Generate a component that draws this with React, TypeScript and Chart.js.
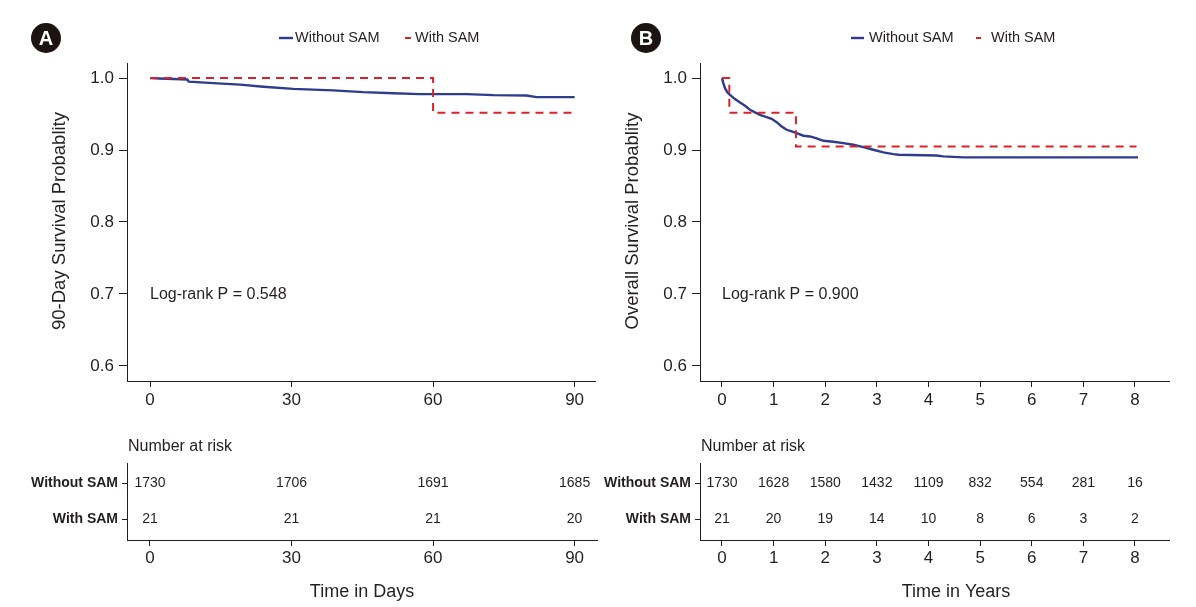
import React, { useEffect, useRef } from 'react';
import { Chart, registerables } from 'chart.js';

Chart.register(...registerables);

const FONT = "'Liberation Sans', Arial, Helvetica, sans-serif";
const INK = '#231f20';
const BLUE = '#2f3c8e';
const RED = '#d9232b';

// ---------- shared ----------
const groups = ['Without SAM', 'With SAM'];
const survTicks = [0.6, 0.7, 0.8, 0.9, 1.0];

// ---------- Panel A : 90-day ----------
const timeTicksA = [0, 30, 60, 90];
const withoutTimeA = [0, 2, 7.9, 8.2, 13.4, 19.1, 24, 30.4, 38.8, 45.2, 51.6, 57.2, 67.1, 72.8, 79.8, 81.9, 90];
const withoutSurvA = [1.0, 0.9995, 0.998, 0.995, 0.993, 0.991, 0.988, 0.985, 0.983, 0.9805, 0.979, 0.9778, 0.9778, 0.9764, 0.9758, 0.9736, 0.9736];
const withTimeA = [0, 60, 90];
const withSurvA = [1.0, 0.952, 0.952];
const riskWithoutA = [1730, 1706, 1691, 1685];
const riskWithA = [21, 21, 21, 20];

// ---------- Panel B : overall ----------
const timeTicksB = [0, 1, 2, 3, 4, 5, 6, 7, 8];
const withoutTimeB = [0, 0.026, 0.058, 0.103, 0.155, 0.252, 0.349, 0.446, 0.542, 0.639, 0.736, 0.865, 0.962, 1.059, 1.156, 1.253, 1.35, 1.446, 1.576, 1.705, 1.834, 1.963, 2.157, 2.35, 2.544, 2.738, 2.931, 3.125, 3.319, 3.416, 4.158, 4.287, 4.675, 8.06];
const withoutSurvB = [1.0, 0.993, 0.986, 0.9805, 0.9768, 0.9708, 0.9662, 0.9615, 0.956, 0.9523, 0.949, 0.9458, 0.9435, 0.9388, 0.9328, 0.9282, 0.9259, 0.9236, 0.9199, 0.9189, 0.9162, 0.9129, 0.9115, 0.9097, 0.9074, 0.9041, 0.9004, 0.8967, 0.8944, 0.8935, 0.8925, 0.8912, 0.8898, 0.8898];
const withTimeB = [0, 0.142, 1.433, 8.03];
const withSurvB = [1.0, 0.952, 0.905, 0.905];
const riskWithoutB = [1730, 1628, 1580, 1432, 1109, 832, 554, 281, 16];
const riskWithB = [21, 20, 19, 14, 10, 8, 6, 3, 2];

type Panel = {
  left: number;
  width: number;
  badge: string;
  yTitle: string;
  logRank: string;
  xTitle: string;
  xTitleX: number;
  areaLeft: number;
  areaRight: number;
  riskRight: number;
  xMin: number;
  xMax: number;
  xMaxRisk: number;
  ticks: number[];
  withoutT: number[];
  withoutS: number[];
  withT: number[];
  withS: number[];
  riskWithout: number[];
  riskWith: number[];
  legend: { blue: [number, number]; blueText: number; red: [number, number]; redText: number };
};

const panels: Panel[] = [
  {
    left: 0, width: 600, badge: 'A',
    yTitle: '90-Day Survival Probablity', logRank: 'Log-rank P = 0.548',
    xTitle: 'Time in Days', xTitleX: 362,
    areaLeft: 127, areaRight: 595, riskRight: 597,
    xMin: -4.875, xMax: 94.32, xMaxRisk: 94.75,
    ticks: timeTicksA,
    withoutT: withoutTimeA, withoutS: withoutSurvA, withT: withTimeA, withS: withSurvA,
    riskWithout: riskWithoutA, riskWith: riskWithA,
    legend: { blue: [279, 293], blueText: 295, red: [405, 411], redText: 415 },
  },
  {
    left: 600, width: 596, badge: 'B',
    yTitle: 'Overall Survival Probablity', logRank: 'Log-rank P = 0.900',
    xTitle: 'Time in Years', xTitleX: 356,
    areaLeft: 100, areaRight: 569, riskRight: 569,
    xMin: -0.426, xMax: 8.659, xMaxRisk: 8.659,
    ticks: timeTicksB,
    withoutT: withoutTimeB, withoutS: withoutSurvB, withT: withTimeB, withS: withSurvB,
    riskWithout: riskWithoutB, riskWith: riskWithB,
    legend: { blue: [251, 264], blueText: 269, red: [376, 381], redText: 391 },
  },
];

const TOP_H = 420;
const RISK_H = 187;

function axisX(min: number, max: number, ticks: number[], height: number, pad: number) {
  return {
    type: 'linear',
    min,
    max,
    afterBuildTicks: (s: any) => { s.ticks = ticks.map((v) => ({ value: v })); },
    afterFit: (s: any) => { s.height = height; },
    ticks: { color: INK, font: { size: 17, family: FONT }, padding: pad, maxRotation: 0, autoSkip: false },
    grid: { display: true, drawOnChartArea: false, drawTicks: true, tickLength: 6, color: INK, lineWidth: 1 },
    border: { display: true, color: INK, width: 1 },
  };
}

function buildSurv(canvas: HTMLCanvasElement, p: Panel) {
  const overlay = {
    id: 'overlay' + p.badge,
    afterDraw(chart: any) {
      const ctx = chart.ctx;
      const a = chart.chartArea;
      const xs = chart.scales.x;
      const ys = chart.scales.y;
      ctx.save();
      // badge
      ctx.fillStyle = '#1b1412';
      ctx.beginPath();
      ctx.arc(46, 38, 15, 0, Math.PI * 2);
      ctx.fill();
      ctx.fillStyle = '#ffffff';
      ctx.font = `bold 20px ${FONT}`;
      ctx.textAlign = 'center';
      ctx.textBaseline = 'middle';
      ctx.fillText(p.badge, 46, 39);
      // legend
      const ly = 38;
      ctx.lineWidth = 2.4;
      ctx.strokeStyle = BLUE;
      ctx.beginPath();
      ctx.moveTo(p.legend.blue[0], ly);
      ctx.lineTo(p.legend.blue[1], ly);
      ctx.stroke();
      ctx.lineWidth = 2;
      ctx.strokeStyle = RED;
      ctx.beginPath();
      ctx.moveTo(p.legend.red[0], ly);
      ctx.lineTo(p.legend.red[1], ly);
      ctx.stroke();
      ctx.fillStyle = INK;
      ctx.font = `14.5px ${FONT}`;
      ctx.textAlign = 'left';
      ctx.fillText(groups[0], p.legend.blueText, ly);
      ctx.fillText(groups[1], p.legend.redText, ly);
      // log-rank
      ctx.font = `16px ${FONT}`;
      ctx.fillText(p.logRank, xs.getPixelForValue(0), ys.getPixelForValue(0.7) + 1);
      // y title
      ctx.translate(a.left - 67, (a.top + a.bottom) / 2 - 1);
      ctx.rotate(-Math.PI / 2);
      ctx.textAlign = 'center';
      ctx.font = `18.5px ${FONT}`;
      ctx.fillText(p.yTitle, 0, 0);
      ctx.restore();
    },
  };

  return new Chart(canvas, {
    type: 'line',
    data: {
      datasets: [
        {
          label: groups[0],
          data: p.withoutT.map((t, i) => ({ x: t, y: p.withoutS[i] })),
          borderColor: BLUE,
          borderWidth: 2.4,
          stepped: false,
          tension: 0,
          pointRadius: 0,
          fill: false,
          order: 1,
        },
        {
          label: groups[1],
          data: p.withT.map((t, i) => ({ x: t, y: p.withS[i] })),
          borderColor: RED,
          borderWidth: 2,
          borderDash: [8, 6],
          stepped: 'before',
          pointRadius: 0,
          fill: false,
          order: 0,
        },
      ],
    } as any,
    options: {
      animation: false,
      responsive: false,
      devicePixelRatio: 1,
      events: [],
      layout: { padding: { left: 0, top: 63, right: p.width - p.areaRight, bottom: 0 } },
      plugins: { legend: { display: false }, tooltip: { enabled: false }, title: { display: false } },
      scales: {
        x: axisX(p.xMin, p.xMax, p.ticks, TOP_H - 381, 3),
        y: {
          type: 'linear',
          min: 0.579,
          max: 1.021,
          afterBuildTicks: (s: any) => { s.ticks = survTicks.map((v) => ({ value: v })); },
          afterFit: (s: any) => { s.width = p.areaLeft; },
          ticks: {
            color: INK,
            font: { size: 17, family: FONT },
            padding: 5,
            callback: (v: any) => Number(v).toFixed(1),
          },
          grid: { display: true, drawOnChartArea: false, drawTicks: true, tickLength: 8, color: INK, lineWidth: 1 },
          border: { display: true, color: INK, width: 1 },
        },
      },
    } as any,
    plugins: [overlay],
  });
}

function buildRisk(canvas: HTMLCanvasElement, p: Panel) {
  const counts = [p.riskWithout, p.riskWith];
  const overlay = {
    id: 'risk' + p.badge,
    afterDraw(chart: any) {
      const ctx = chart.ctx;
      const a = chart.chartArea;
      ctx.save();
      ctx.fillStyle = INK;
      ctx.textBaseline = 'middle';
      // numbers at risk
      ctx.font = `14px ${FONT}`;
      ctx.textAlign = 'center';
      counts.forEach((row, r) => {
        const meta = chart.getDatasetMeta(r);
        meta.data.forEach((pt: any, i: number) => {
          ctx.fillText(String(row[i]), pt.x, pt.y);
        });
      });
      // header
      ctx.textAlign = 'left';
      ctx.font = `16px ${FONT}`;
      ctx.fillText('Number at risk', a.left + 1, a.top - 16);
      // x title
      ctx.textAlign = 'center';
      ctx.font = `18px ${FONT}`;
      ctx.fillText(p.xTitle, p.xTitleX, 172);
      ctx.restore();
    },
  };

  return new Chart(canvas, {
    type: 'scatter',
    data: {
      datasets: groups.map((g, r) => ({
        label: g,
        data: p.ticks.map((t) => ({ x: t, y: r })),
        pointRadius: 0,
        showLine: false,
      })),
    } as any,
    options: {
      animation: false,
      responsive: false,
      devicePixelRatio: 1,
      events: [],
      layout: { padding: { left: 0, top: 43, right: p.width - p.riskRight, bottom: 0 } },
      plugins: { legend: { display: false }, tooltip: { enabled: false }, title: { display: false } },
      scales: {
        x: axisX(p.xMin, p.xMaxRisk, p.ticks, RISK_H - 120, 2),
        y: {
          type: 'linear',
          reverse: true,
          min: -0.556,
          max: 1.583,
          afterBuildTicks: (s: any) => { s.ticks = [{ value: 0 }, { value: 1 }]; },
          afterFit: (s: any) => { s.width = p.areaLeft; },
          ticks: {
            color: INK,
            font: { size: 14, family: FONT, weight: 'bold' },
            padding: 4,
            callback: (v: any) => groups[Number(v)] ?? '',
          },
          grid: { display: true, drawOnChartArea: false, drawTicks: true, tickLength: 5, color: INK, lineWidth: 1 },
          border: { display: true, color: INK, width: 1 },
        },
      },
    } as any,
    plugins: [overlay],
  });
}

export default function App() {
  const refs = useRef<(HTMLCanvasElement | null)[]>([]);

  useEffect(() => {
    const charts: Chart[] = [];
    panels.forEach((p, i) => {
      const top = refs.current[i * 2];
      const risk = refs.current[i * 2 + 1];
      if (top) charts.push(buildSurv(top, p));
      if (risk) charts.push(buildRisk(risk, p));
    });
    return () => charts.forEach((c) => c.destroy());
  }, []);

  return (
    <div style={{ position: 'absolute', left: 0, top: 0, width: 1196, height: 607, background: '#ffffff' }}>
      {panels.map((p, i) => (
        <React.Fragment key={p.badge}>
          <canvas
            ref={(el) => { refs.current[i * 2] = el; }}
            width={p.width}
            height={TOP_H}
            style={{ position: 'absolute', left: p.left, top: 0, width: p.width, height: TOP_H }}
          />
          <canvas
            ref={(el) => { refs.current[i * 2 + 1] = el; }}
            width={p.width}
            height={RISK_H}
            style={{ position: 'absolute', left: p.left, top: TOP_H, width: p.width, height: RISK_H }}
          />
        </React.Fragment>
      ))}
    </div>
  );
}
